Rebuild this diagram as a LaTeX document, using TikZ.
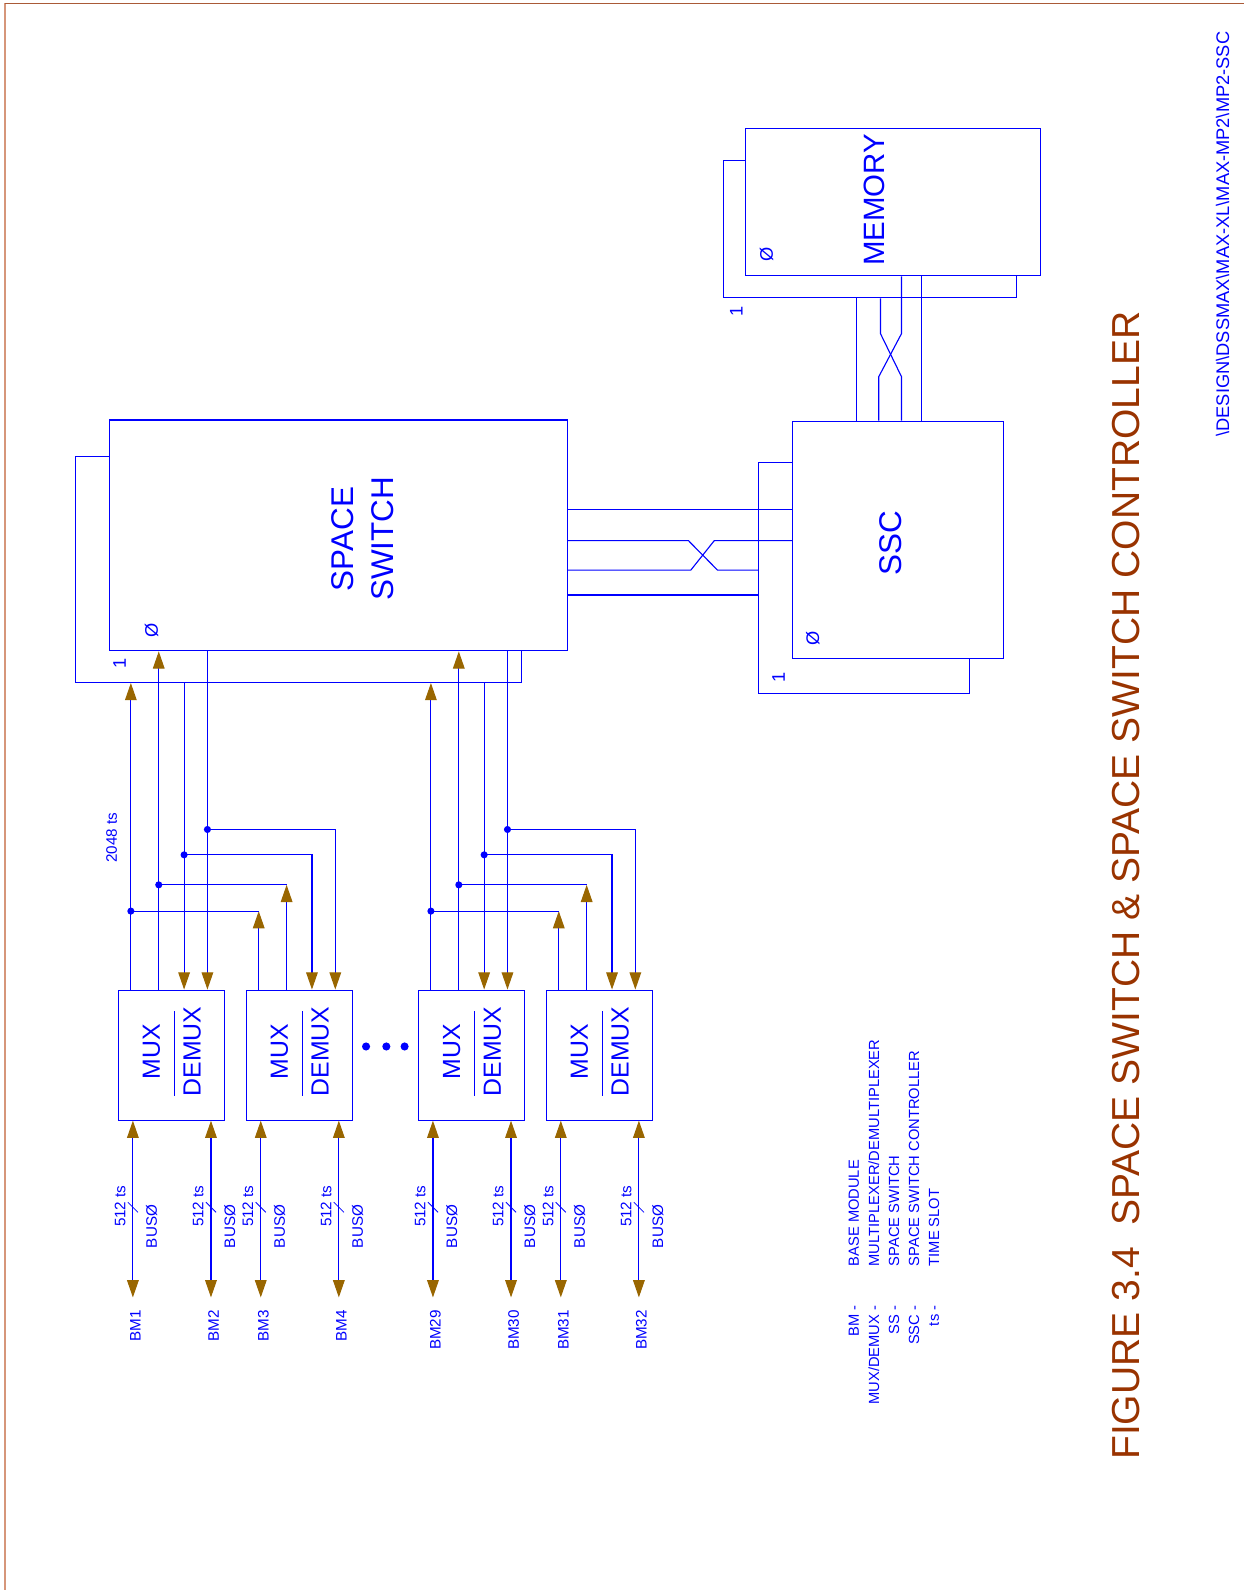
\documentclass[tikz,border=0pt]{standalone}
\usepackage{fontspec}
\setmainfont{Liberation Sans}
\usetikzlibrary{arrows.meta,calc,positioning}
\definecolor{wireblue}{RGB}{0,0,255}
\definecolor{tipbrown}{RGB}{153,102,0}
\definecolor{titlebrown}{RGB}{153,51,0}
\definecolor{edgebrown}{RGB}{170,90,55}
\definecolor{edgelight}{RGB}{214,150,122}
\tikzset{
  box/.style={draw=wireblue, fill=white, rectangle, inner sep=0pt},
  mdbox/.style={box, minimum width=105pt, minimum height=128.2pt},
  arr/.style={-{Triangle[length=17pt,width=11.5pt,color=tipbrown]}},
  bus/.style={{Triangle[length=17pt,width=11.5pt,color=tipbrown]}-{Triangle[length=17pt,width=11.5pt,color=tipbrown]}},
  vtext/.style={rotate=90, inner sep=0pt, text=wireblue},
  bigtxt/.style={vtext, align=center, font=\fontsize{31}{40}\selectfont},
  mdtxt/.style={vtext, font=\fontsize{24.5}{26}\selectfont},
  numtxt/.style={vtext, font=\fontsize{18}{20}\selectfont},
  smalltxt/.style={vtext, font=\fontsize{15}{17}\selectfont},
  legtxt/.style={vtext, font=\fontsize{14.5}{16}\selectfont}
}
\begin{document}
\begin{tikzpicture}[x=1pt, y=-1pt, line width=1.1pt, color=wireblue]
    \useasboundingbox (0,0) rectangle (1227,1568);

    % Dessiner le cadre de la page
    \draw[edgelight, line width=1.6pt] (4.9,1568) -- (4.9,3.3);
    \draw[edgebrown, line width=1pt] (4.9,3.3) -- (1227,3.3);

    % Dessiner les blocs (plan 1 derriere, plan 0 devant)
    \node[box, minimum width=439.3pt, minimum height=222.6pt] (ssB) at (294.25,561.7) {};
    \node[box, minimum width=452pt, minimum height=227.6pt] (ss) at (333.7,528) {};
    \node[box, minimum width=207.7pt, minimum height=228.3pt] (sscB) at (852.15,569.95) {};
    \node[box, minimum width=208.1pt, minimum height=233.7pt] (ssc) at (885.55,532.15) {};
    \node[box, minimum width=288.3pt, minimum height=135.1pt] (memB) at (857.95,226.25) {};
    \node[box, minimum width=291.3pt, minimum height=145.3pt] (mem) at (880.75,199.25) {};

    \node[bigtxt] (sstext) at (357.6,531.5) {SPACE\\SWITCH};
    \node[bigtxt] (ssctext) at (878.6,536) {SSC};
    \node[bigtxt, font=\fontsize{29}{32}\selectfont] (memtext) at (862.2,197.2) {MEMORY};

    \node[numtxt] (ss0) at ($(ss.south west)+(42.3,-21.1)$) {Ø};
    \node[numtxt] (ss1) at ($(ssB.south west)+(43.8,-19)$) {1};
    \node[numtxt] (ssc0) at ($(ssc.south west)+(20.7,-19.7)$) {Ø};
    \node[numtxt] (ssc1) at ($(sscB.south west)+(20,-17)$) {1};
    \node[numtxt] (mem0) at ($(mem.south west)+(21.4,-21.1)$) {Ø};
    \node[numtxt] (mem1) at ($(memB.south west)+(12.8,12.9)$) {1};

    % Liaisons entre le commutateur et le controleur
    \coordinate (w1) at (0,502.3);
    \coordinate (w2) at (0,533.2);
    \coordinate (w3) at (0,562.2);
    \coordinate (w4) at (0,586.8);
    \draw (ss.east |- w1) -- (ssc.west |- w1);
    \draw (ss.east |- w2) -- ++(118.7,0) -- ++(28.6,29) -- (sscB.west |- w3);
    \draw (ss.east |- w3) -- ++(121,0) -- ++(23.1,-29) -- (ssc.west |- w2);
    \draw (ss.east |- w4) -- (sscB.west |- w4);

    % Liaisons entre la memoire et le controleur
    \coordinate (v1) at (844.6,0);
    \coordinate (v2) at (868.3,0);
    \coordinate (v2b) at (866.6,0);
    \coordinate (v3) at (889,0);
    \coordinate (v4) at (909,0);
    \draw (v1 |- memB.south) -- (v1 |- ssc.north);
    \draw (v2 |- memB.south) -- ++(0,34.7) -- ++(20.7,42.4) -- (v3 |- ssc.north);
    \draw (v3 |- mem.south) -- ++(0,56.6) -- ++(-22.4,42.4) -- (v2b |- ssc.north);
    \draw (v4 |- mem.south) -- (v4 |- ssc.north);

    % Dessiner les MUX/DEMUX
    \node[mdbox] (md1) at (169.1,1040.5) {};
    \node[mdbox, right=20pt of md1] (md2) {};
    \node[mdbox] (md3) at (465,1040.5) {};
    \node[mdbox, right=20pt of md3] (md4) {};
    \foreach \m in {md1,md2,md3,md4}{
      \node[mdtxt] (\m mux) at ($(\m.west)+(33.4,-3.5)$) {MUX};
      \node[mdtxt] (\m demux) at ($(\m.west)+(73.6,-3.5)$) {DEMUX};
      \draw ($(\m.west)+(56.4,-43.5)$) -- ($(\m.west)+(56.4,40.5)$);
    }
    \fill (361,1032) circle (4pt);
    \fill (381,1032) circle (4pt);
    \fill (399,1032) circle (4pt);

    % Bus 2048 ts vers le commutateur
    \coordinate (rowA) at (0,898.5);
    \coordinate (rowB) at (0,872.6);
    \coordinate (rowC) at (0,843);
    \coordinate (rowD) at (0,818);
    \foreach \a/\b in {md1/md2,md3/md4}{
      \foreach \k/\dx in {1/13,2/40.5,3/65.5,4/88.5}{
        \coordinate (\a c\k) at ($(\a.north west)+(\dx,0)$);
        \coordinate (\b c\k) at ($(\b.north west)+(\dx,0)$);
      }
      \draw[arr] (\a c1) -- (\a c1 |- ssB.south);
      \draw[arr] (\a c2) -- (\a c2 |- ss.south);
      \draw[arr] (\b c1) -- (\b c1 |- rowA);
      \draw[arr] (\b c2) -- (\b c2 |- rowB);
      \draw (\b c1 |- rowA) -- (\a c1 |- rowA);
      \draw (\b c2 |- rowB) -- (\a c2 |- rowB);
      \draw[arr] (\a c3 |- ssB.south) -- (\a c3);
      \draw[arr] (\a c4 |- ss.south) -- (\a c4);
      \draw[arr] (\a c3 |- rowC) -| (\b c3);
      \draw[arr] (\a c4 |- rowD) -| (\b c4);
      \foreach \k/\r in {1/rowA,2/rowB,3/rowC,4/rowD}
        \fill (\a c\k |- \r) circle (3.5pt);
    }
    \node[smalltxt] (ts2048) at (110,826) {2048 ts};

    % Bus 512 ts vers les modules de base
    \foreach \m/\p/\q in {md1/1/2,md2/3/4,md3/29/30,md4/31/32}{
      \foreach \dx/\lab in {15/\p,92/\q}{
        \coordinate (top\lab) at ($(\m.south west)+(\dx,0)$);
        \coordinate (bot\lab) at ($(top\lab)+(0,174.3)$);
        \draw[bus] (top\lab) -- (bot\lab);
        \draw[line width=0.8pt] ($(top\lab)+(-5,80.4)$) -- ($(top\lab)+(5,90.4)$);
        \node[smalltxt] (ts\lab) at ($(top\lab)+(-12.6,84.4)$) {512 ts};
        \node[smalltxt] (busname\lab) at ($(top\lab)+(18.6,104.4)$) {BUSØ};
        \node[smalltxt, anchor=east] (bm\lab) at ($(bot\lab)+(2.5,12.1)$) {BM\lab};
      }
    }

    % Legende
    \node[legtxt, anchor=east] (abBM) at (842,1287) {BM -};
    \node[legtxt, anchor=west] (dsBM) at (842,1249.3) {BASE MODULE};
    \node[legtxt, anchor=east] (abMD) at (861.8,1287) {MUX/DEMUX -};
    \node[legtxt, anchor=west] (dsMD) at (861.8,1249.3) {MULTIPLEXER/DEMULTIPLEXER};
    \node[legtxt, anchor=east] (abSS) at (881.6,1287) {SS -};
    \node[legtxt, anchor=west] (dsSS) at (881.6,1249.3) {SPACE SWITCH};
    \node[legtxt, anchor=east] (abSSC) at (901.4,1287) {SSC -};
    \node[legtxt, anchor=west] (dsSSC) at (901.4,1249.3) {SPACE SWITCH CONTROLLER};
    \node[legtxt, anchor=east] (abTS) at (921.2,1287) {ts -};
    \node[legtxt, anchor=west] (dsTS) at (921.2,1249.3) {TIME SLOT};

    % Titre et chemin du fichier
    \node[rotate=90, inner sep=0pt, text=titlebrown, font=\fontsize{38.5}{40}\selectfont] (title) at (1110,873.4) {FIGURE 3.4~~SPACE SWITCH \& SPACE SWITCH CONTROLLER};
    \node[vtext, font=\fontsize{18}{20}\selectfont] (filepath) at (1205.7,230.9) {\textbackslash DESIGN\textbackslash DSSMAX\textbackslash MAX-XL\textbackslash MAX-MP2\textbackslash MP2-SSC};
\end{tikzpicture}
\end{document}
